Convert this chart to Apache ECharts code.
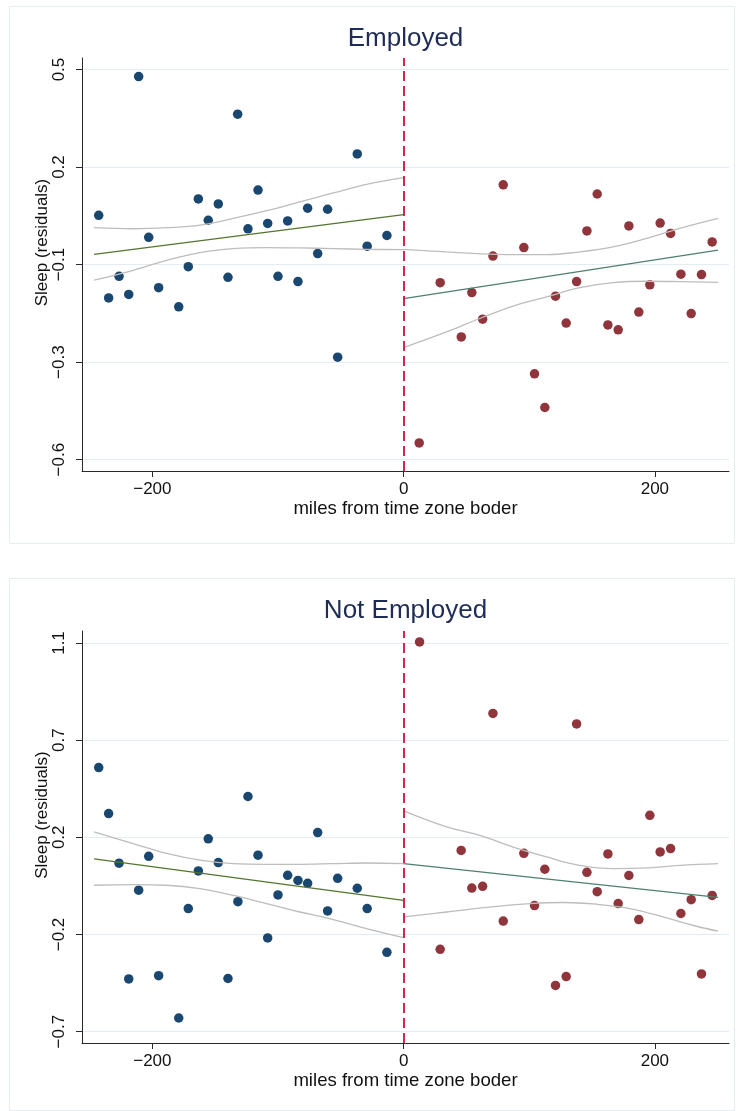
<!DOCTYPE html>
<html><head><meta charset="utf-8">
<script src="https://cdn.jsdelivr.net/npm/echarts@6/dist/echarts.min.js"></script>
<style>html,body{margin:0;padding:0;background:#fff}#c{width:736px;height:1111px}</style>
</head><body><div id="c"></div>
<script>
// ---- tick values / labels ----
const xTickValues = [-200, 0, 200];
const xTickLabels = ['\u2212200', '0', '200'];
const empYTickValues = [-0.6, -0.325, -0.05, 0.225, 0.5];
const empYTickLabels = ['\u22120.6', '\u22120.3', '\u22120.1', '0.2', '0.5'];
const notYTickValues = [-0.7, -0.25, 0.2, 0.65, 1.1];
const notYTickLabels = ['\u22120.7', '\u22120.2', '0.2', '0.7', '1.1'];
const panelTitles = ['Employed', 'Not Employed'];

// ---- Employed panel ----
const empLeft = [[-242.7,0.089],[-234.8,-0.144],[-226.5,-0.083],[-218.8,-0.134],[-210.9,0.480],[-202.9,0.027],[-195,-0.115],[-179,-0.169],[-171.4,-0.056],[-163.4,0.135],[-155.5,0.075],[-147.5,0.121],[-139.8,-0.086],[-132.1,0.374],[-123.9,0.051],[-115.9,0.160],[-108.2,0.066],[-100,-0.083],[-92.3,0.073],[-84.1,-0.098],[-76.4,0.109],[-68.4,-0.019],[-60.5,0.106],[-52.5,-0.311],[-36.9,0.262],[-29,0.002],[-13.3,0.032]];
const empRight = [[12.4,-0.553],[29.1,-0.101],[45.9,-0.254],[54.3,-0.129],[62.9,-0.204],[71.1,-0.026],[79.3,0.175],[95.7,-0.002],[104.2,-0.358],[112.4,-0.453],[120.9,-0.139],[129.4,-0.215],[137.7,-0.098],[145.9,0.045],[154.1,0.149],[162.6,-0.220],[170.8,-0.234],[179.3,0.059],[187.2,-0.184],[196,-0.107],[204.2,0.067],[212.5,0.038],[220.7,-0.077],[228.9,-0.188],[237.1,-0.078],[245.6,0.014]];
const empFitL = [[-246.4,-0.021],[0,0.091]];
const empCiUpL = [[-246.4,0.054],[-215.2,0.051],[-188.6,0.054],[-162.1,0.061],[-135.6,0.080],[-109.1,0.102],[-82.5,0.127],[-56,0.152],[-29.5,0.176],[0,0.195]];
const empCiLoL = [[-246.4,-0.094],[-215.2,-0.066],[-188.6,-0.038],[-162.1,-0.016],[-135.6,-0.005],[-109.1,-0.002],[-82.5,-0.003],[-56,-0.005],[-29.5,-0.007],[0,-0.008]];
const empFitR = [[0,-0.146],[250.3,-0.009]];
const empCiUpR = [[0,-0.007],[34.2,-0.014],[74,-0.021],[113.8,-0.022],[140.3,-0.014],[166.8,0.0],[193.4,0.024],[219.9,0.052],[250.3,0.080]];
const empCiLoR = [[0,-0.284],[34.2,-0.240],[60.7,-0.202],[87.2,-0.167],[113.8,-0.141],[140.3,-0.115],[166.8,-0.101],[193.4,-0.097],[219.9,-0.098],[250.3,-0.100]];

// ---- Not Employed panel ----
const notLeft = [[-242.7,0.523],[-234.8,0.310],[-226.5,0.080],[-218.8,-0.456],[-210.9,-0.045],[-202.9,0.112],[-195,-0.441],[-179,-0.637],[-171.4,-0.130],[-163.4,0.044],[-155.5,0.193],[-147.5,0.083],[-139.8,-0.454],[-131.9,-0.098],[-123.9,0.389],[-115.9,0.117],[-108.2,-0.266],[-100,-0.067],[-92.3,0.024],[-84.1,0.000],[-76.4,-0.013],[-68.4,0.222],[-60.5,-0.141],[-52.5,0.010],[-36.9,-0.036],[-29,-0.130],[-13.3,-0.333]];
const notRight = [[12.7,1.105],[29.1,-0.319],[45.8,0.139],[54.3,-0.035],[62.9,-0.027],[71.1,0.774],[79.3,-0.188],[95.7,0.126],[104.2,-0.116],[112.4,0.052],[120.9,-0.486],[129.4,-0.445],[137.7,0.725],[145.9,0.038],[154.1,-0.052],[162.6,0.123],[170.8,-0.107],[179.3,0.023],[187.2,-0.181],[196,0.302],[204.2,0.132],[212.5,0.148],[220.7,-0.153],[228.9,-0.089],[237.1,-0.433],[245.6,-0.069]];
const notFitL = [[-246.4,0.100],[0,-0.092]];
const notCiUpL = [[-246.4,0.225],[-215.2,0.171],[-188.6,0.125],[-162.1,0.094],[-135.6,0.078],[-109.1,0.075],[-82.5,0.075],[-56,0.078],[-29.5,0.081],[0,0.078]];
const notCiLoL = [[-246.4,-0.022],[-215.2,-0.019],[-188.6,-0.022],[-162.1,-0.038],[-135.6,-0.069],[-109.1,-0.107],[-82.5,-0.146],[-56,-0.181],[-29.5,-0.223],[0,-0.265]];
const notFitR = [[0,0.078],[250.3,-0.078]];
const notCiUpR = [[0,0.322],[34.2,0.248],[60.7,0.209],[87.2,0.155],[113.8,0.109],[140.3,0.070],[166.8,0.055],[193.4,0.058],[219.9,0.070],[250.3,0.078]];
const notCiLoR = [[0,-0.169],[34.2,-0.146],[74,-0.120],[100.5,-0.107],[127,-0.102],[153.6,-0.110],[180.1,-0.130],[206.6,-0.169],[233.1,-0.212],[250.3,-0.235]];

const FONT = '"Liberation Sans", Arial, Helvetica, sans-serif';
const BLUE = '#1a476f', RED = '#90353b', GREEN = '#55752f', TEAL = '#4f806e', GRAY = '#bdbdbd';
const AXIS = '#2a2a2a';

function labelFor(vals, labs) {
  return function (v) {
    let best = 0, d = Infinity;
    vals.forEach((t, i) => { const dd = Math.abs(t - v); if (dd < d) { d = dd; best = i; } });
    return labs[best];
  };
}

function xAxisFor(gi) {
  return {
    type: 'value', gridIndex: gi, min: -256, max: 259,
    name: 'miles from time zone boder', nameLocation: 'middle', nameGap: 28, nameMoveOverlap: false,
    nameTextStyle: { fontFamily: FONT, fontSize: 18.6, color: '#111' },
    axisLine: { show: true, onZero: false, lineStyle: { color: AXIS, width: 1 } },
    axisTick: { show: true, length: 6, customValues: xTickValues, lineStyle: { color: AXIS } },
    axisLabel: { customValues: xTickValues, formatter: labelFor(xTickValues, xTickLabels), fontFamily: FONT, fontSize: 17, color: '#111', margin: 10 },
    splitLine: { show: false }
  };
}
function yAxisFor(gi, min, max, vals, labs) {
  return {
    type: 'value', gridIndex: gi, min: min, max: max,
    name: 'Sleep (residuals)', nameLocation: 'middle', nameGap: 31.5, nameRotate: 90, nameMoveOverlap: false,
    nameTextStyle: { fontFamily: FONT, fontSize: 17, color: '#111', padding: [0, 0, 0, 44] },
    axisLine: { show: true, onZero: false, lineStyle: { color: AXIS, width: 1 } },
    axisTick: { show: true, length: 6, customValues: vals, lineStyle: { color: AXIS } },
    axisLabel: { customValues: vals, rotate: 90, formatter: labelFor(vals, labs), fontFamily: FONT, fontSize: 17, color: '#111', margin: 14 },
    splitLine: { show: true, lineStyle: { color: '#e5ecf1', width: 1 } }
  };
}
function scatter(gi, data, color, withLine) {
  const s = { type: 'scatter', xAxisIndex: gi, yAxisIndex: gi, data: data, symbolSize: 9.5,
    itemStyle: { color: color, opacity: 1 }, z: 3 };
  if (withLine) {
    s.markLine = { silent: true, symbol: 'none', animation: false, label: { show: false },
      lineStyle: { color: '#d0103e', type: [10, 5], width: 1.8 }, data: [{ xAxis: 0 }] };
  }
  return s;
}
function line(gi, data, color, smooth) {
  return { type: 'line', xAxisIndex: gi, yAxisIndex: gi, data: data, showSymbol: false, symbol: 'none',
    smooth: smooth ? 0.4 : false, lineStyle: { color: color, width: 1.3 }, z: 4, silent: true };
}

const chart = echarts.init(document.getElementById('c'), null, { renderer: 'canvas' });
chart.setOption({
  animation: false,
  backgroundColor: '#ffffff',
  title: [
    { text: panelTitles[0], left: 405.5, top: 25.5, textAlign: 'center', padding: 0,
      textStyle: { fontFamily: FONT, fontSize: 26, fontWeight: 'normal', color: '#1f2c56' } },
    { text: panelTitles[1], left: 405.5, top: 597.5, textAlign: 'center', padding: 0,
      textStyle: { fontFamily: FONT, fontSize: 26, fontWeight: 'normal', color: '#1f2c56' } }
  ],
  graphic: [
    { type: 'rect', shape: { x: 9.5, y: 6.5, width: 725, height: 537 }, style: { fill: 'none', stroke: '#e6edf1', lineWidth: 1 }, z: -1 },
    { type: 'rect', shape: { x: 9.5, y: 578.5, width: 725, height: 532 }, style: { fill: 'none', stroke: '#e6edf1', lineWidth: 1 }, z: -1 }
  ],
  grid: [
    { left: 82, top: 58, width: 647, height: 413 },
    { left: 82, top: 631, width: 647, height: 412 }
  ],
  xAxis: [xAxisFor(0), xAxisFor(1)],
  yAxis: [
    yAxisFor(0, -0.632, 0.5325, empYTickValues, empYTickLabels),
    yAxisFor(1, -0.7528, 1.1556, notYTickValues, notYTickLabels)
  ],
  series: [
    scatter(0, empLeft, BLUE, true),
    scatter(0, empRight, RED, false),
    line(0, empCiUpL, GRAY, true), line(0, empCiLoL, GRAY, true), line(0, empFitL, GREEN, false),
    line(0, empCiUpR, GRAY, true), line(0, empCiLoR, GRAY, true), line(0, empFitR, TEAL, false),
    scatter(1, notLeft, BLUE, true),
    scatter(1, notRight, RED, false),
    line(1, notCiUpL, GRAY, true), line(1, notCiLoL, GRAY, true), line(1, notFitL, GREEN, false),
    line(1, notCiUpR, GRAY, true), line(1, notCiLoR, GRAY, true), line(1, notFitR, TEAL, false)
  ]
});
</script>
</body></html>
